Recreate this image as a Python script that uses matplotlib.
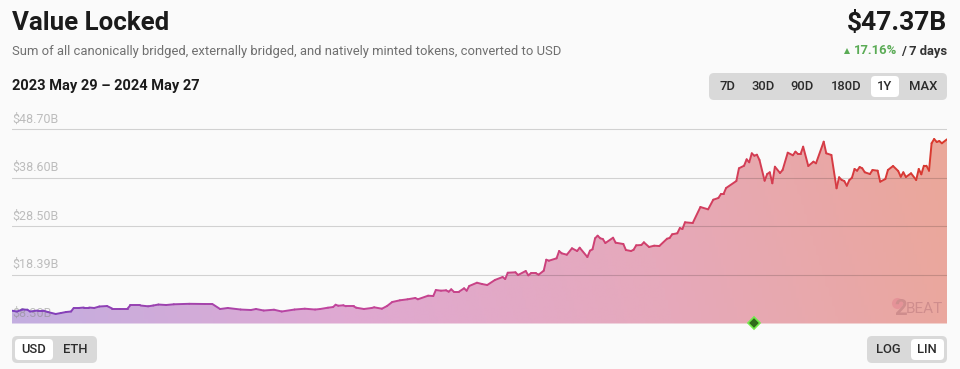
# Value Locked chart (2023 May 29 - 2024 May 27)
import numpy as np
import matplotlib
matplotlib.use('Agg')
import matplotlib.pyplot as plt
from matplotlib.collections import LineCollection
from matplotlib.colors import LinearSegmentedColormap
from matplotlib.patches import FancyBboxPatch

plt.rcParams['font.family'] = ['Roboto', 'DejaVu Sans']

# days since 2023 May 29, value in billions of USD
days = [0, 2, 4, 6, 7, 10, 12, 14, 17, 19, 21, 23, 24, 26, 28, 30, 32, 34, 37, 39,
        42, 45, 46, 50, 53, 55, 57, 60, 63, 69, 75, 78, 81, 84, 89, 93, 95, 98, 102, 105,
        110, 114, 118, 120, 123, 125, 126, 127, 129, 130, 133, 134, 137, 140, 141, 144, 146, 148, 151, 154,
        157, 158, 162, 164, 165, 167, 169, 170, 171, 172, 174, 176, 177, 178, 181, 183, 185, 188, 191, 192,
        193, 196, 197, 200, 201, 202, 204, 205, 207, 208, 209, 212, 213, 214, 216, 218, 220, 221, 224, 225,
        226, 227, 228, 229, 230, 231, 234, 235, 238, 239, 241, 242, 243, 245, 246, 248, 250, 252, 255, 256,
        257, 259, 260, 261, 262, 265, 268, 271, 273, 275, 276, 277, 278, 282, 283, 285, 286, 287, 288, 289,
        290, 291, 293, 294, 295, 296, 297, 299, 300, 302, 304, 305, 306, 307, 308, 310, 312, 313, 316, 317,
        319, 321, 322, 323, 324, 325, 326, 327, 328, 329, 330, 331, 332, 334, 335, 337, 338, 340, 341, 343,
        345, 346, 347, 348, 350, 352, 353, 354, 355, 356, 357, 358, 359, 360, 361, 362, 364]
tvl = [10.92, 10.76, 11.17, 11.13, 10.76, 10.96, 10.96, 10.65, 10.24, 10.44, 10.65, 10.76, 11.49, 11.49, 11.59, 11.59, 11.49, 11.80, 11.90, 11.38,
       11.38, 11.38, 12.01, 12.01, 11.84, 12.01, 12.21, 12.11, 12.26, 12.36, 12.32, 12.32, 11.28, 11.49, 11.17, 11.07, 11.28, 10.96, 11.13, 10.76,
       11.17, 11.34, 11.17, 11.28, 11.55, 11.69, 12.17, 11.96, 12.05, 11.84, 11.84, 11.55, 11.28, 11.49, 11.63, 11.34, 11.90, 12.73, 13.09, 13.30,
       13.57, 13.30, 14.05, 13.98, 15.23, 15.09, 15.17, 14.88, 15.38, 14.88, 14.88, 15.59, 15.09, 16.07, 16.75, 16.48, 16.27, 17.32, 17.94, 17.52,
       18.83, 18.92, 18.36, 19.19, 18.29, 18.71, 18.71, 18.42, 19.25, 21.54, 21.33, 21.83, 23.35, 22.87, 22.58, 23.92, 23.35, 24.04, 22.10, 23.42,
       23.71, 26.00, 26.54, 26.00, 25.85, 25.02, 26.12, 25.08, 24.81, 23.56, 23.35, 23.62, 24.54, 24.60, 25.16, 24.19, 24.46, 24.39, 25.91, 26.06,
       26.83, 27.04, 28.14, 27.93, 29.33, 29.18, 32.51, 32.03, 34.03, 34.39, 35.22, 35.22, 36.47, 37.93, 40.57, 41.11, 42.44, 41.82, 43.69, 43.19,
       43.40, 42.30, 37.99, 39.38, 39.74, 37.45, 40.90, 39.59, 40.22, 43.82, 43.28, 44.03, 43.55, 43.55, 45.07, 41.05, 41.95, 41.61, 46.11, 43.69,
       43.34, 36.41, 38.70, 38.14, 37.93, 36.95, 38.14, 38.61, 40.43, 40.07, 40.84, 40.57, 39.74, 39.38, 40.22, 40.07, 37.78, 38.34, 40.22, 41.05,
       40.01, 38.82, 39.74, 38.76, 39.53, 38.14, 40.43, 39.32, 41.11, 41.11, 40.07, 45.78, 46.67, 46.05, 46.25, 45.78, 46.61]

tick_vals = [48.70, 38.60, 28.50, 18.39, 8.30]
tick_labels = ['$48.70B', '$38.60B', '$28.50B', '$18.39B', '$8.30B']
range_btns = ['7D', '30D', '90D', '180D', '1Y', 'MAX']
marker_day = 289

bg = '#fafafa'
fig = plt.figure(figsize=(9.6, 3.69), dpi=100, facecolor=bg)

# chart area, 12..947 px wide and 128..323.5 px from the top
ax = fig.add_axes([12 / 960, 1 - 323.5 / 369, 935 / 960, 195.5 / 369])
ax.set_xlim(0, 364)
ax.set_ylim(8.26, 48.96)
ax.axis('off')

fill_cmap = LinearSegmentedColormap.from_list('f', ['#c3aee0', '#dfa9d2', '#e6a9bb', '#eba799'])
line_cmap = LinearSegmentedColormap.from_list('l', ['#7b3fbd', '#c0459f', '#d0406e', '#d9392c'])

# gradient leans a little so the lower left stays more purple
gx, gy = np.meshgrid(np.linspace(0, 1, 300), np.linspace(0, 1, 100))
grad = np.clip(gx * 0.94 + gy * 0.06, 0, 1)
im = ax.imshow(grad, extent=[0, 364, 8.26, 48.96], origin='lower', aspect='auto',
               cmap=fill_cmap, vmin=0, vmax=1, zorder=2, interpolation='bilinear')
poly = ax.fill_between(days, 8.26, tvl, color='none')
im.set_clip_path(poly.get_paths()[0], transform=ax.transData)

for v, lab in zip(tick_vals, tick_labels):
    if v > 9:
        ax.axhline(v, color='black', alpha=0.16, lw=0.8, zorder=3)
    # labels stay faintly visible through the fill
    ax.annotate(lab, (0, v), xycoords=('axes fraction', 'data'), xytext=(0, 2.6),
                textcoords='offset points', color='#8a8a8a', alpha=0.55, fontsize=9,
                va='bottom', zorder=3)

pts = np.column_stack([days, tvl])
segs = np.stack([pts[:-1], pts[1:]], axis=1)
lc = LineCollection(segs, cmap=line_cmap, linewidths=1.4, zorder=4, capstyle='round', joinstyle='round')
lc.set_array((pts[:-1, 0] + pts[1:, 0]) / 2)
lc.set_clim(0, 364)
ax.add_collection(lc)

ax.plot([marker_day], [8.30], marker='D', ms=6.5, mfc='#2f6a1c', mec='#72ea4c', mew=1.2,
        clip_on=False, zorder=6)

# everything else sits on an overlay measured in pixels
ui = fig.add_axes([0, 0, 1, 1], zorder=5)
ui.set_xlim(0, 960)
ui.set_ylim(369, 0)
ui.axis('off')
ui.patch.set_alpha(0)

dark = '#1b1b1b'
ui.text(12, 23, 'Value Locked', fontsize=18.6, fontweight='bold', color=dark, va='center')
ui.text(947, 23, '$47.37B', fontsize=19, fontweight='bold', color=dark, va='center', ha='right')
ui.text(12, 51, 'Sum of all canonically bridged, externally bridged, and natively minted tokens, converted to USD',
        fontsize=9.35, color='#6f6f6f', va='center')
ui.text(12, 86, '2023 May 29 \u2013 2024 May 27', fontsize=10.55, fontweight='bold', color=dark, va='center')

ui.text(947, 51, '/ 7 days', fontsize=9.4, fontweight='bold', color='#333333', va='center', ha='right')
ui.text(897, 51, '17.16%', fontsize=9.4, fontweight='bold', color='#5aab55', va='center', ha='right')
ui.plot([847], [50.5], marker='^', ms=4, color='#5aab55', mew=0)


def button_group(x0, x1, y0, y1, names, centers, active):
    ui.add_patch(FancyBboxPatch((x0 + 4, y0 + 4), x1 - x0 - 8, y1 - y0 - 8, boxstyle='round,pad=4,rounding_size=5',
                                fc='#d9d9d9', ec='none'))
    for name, c in zip(names, centers):
        if name == active[0]:
            ui.add_patch(FancyBboxPatch((active[1] + 3, y0 + 6), active[2] - active[1] - 6, y1 - y0 - 12,
                                        boxstyle='round,pad=3,rounding_size=4', fc='white', ec='none'))
        ui.text(c, (y0 + y1) / 2 + 0.3, name, fontsize=9.4, fontweight='medium', color='#2b2b2b',
                ha='center', va='center')


button_group(709, 947, 73, 100, range_btns, [727, 763, 802, 846, 885, 923], ('1Y', 871, 899))
button_group(12, 97, 336, 363, ['USD', 'ETH'], [34, 75], ('USD', 15, 53))
button_group(867, 947, 336, 363, ['LOG', 'LIN'], [888, 927], ('LIN', 911, 944))

# faint logo in the corner of the chart
ui.plot([897], [303], marker='o', ms=8, color='#e58f96', mew=0, alpha=0.8)
ui.text(901, 309, '2', fontsize=16, fontweight='bold', color='#cf8d8d', ha='center', va='center')
ui.text(906, 309, 'BEAT', fontsize=11, color='#cf8d8d', va='center',
        family=['Liberation Sans Narrow', 'Roboto'])

fig.savefig('out.png', dpi=100, facecolor=bg)
